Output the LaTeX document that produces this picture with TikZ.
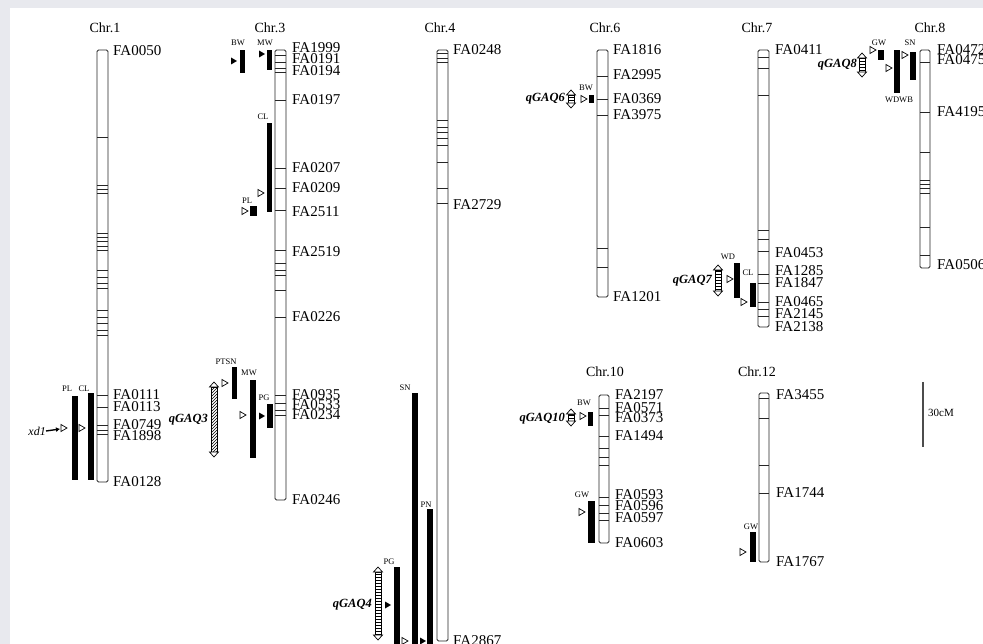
\documentclass[tikz,border=0pt]{standalone}
\usepackage{fontspec}
\setmainfont{Liberation Serif}
\usetikzlibrary{patterns,arrows.meta}
\definecolor{bggray}{RGB}{232,233,238}

\newcommand{\otri}[2]{\draw[tri, fill=white] (#1,#2) ++(-3,-3.5) -- ++(6,3.5) -- ++(-6,3.5) -- cycle;}
\newcommand{\ftri}[2]{\fill (#1,#2) ++(-3,-3.5) -- ++(6,3.5) -- ++(-6,3.5) -- cycle;}
% ladder style double arrow for a QTL interval
\newcommand{\qarrow}[4]{%
  \draw[tri, fill=white, #4] (#1-3,#2+5) rectangle (#1+3,#3-5);
  \draw[tri, fill=white] (#1-4.5,#2+5) -- (#1,#2) -- (#1+4.5,#2+5) -- cycle;
  \draw[tri, fill=white] (#1-4.5,#3-5) -- (#1,#3) -- (#1+4.5,#3-5) -- cycle;
}

\begin{document}
\begin{tikzpicture}[x=1pt, y=-1pt,
  chrbar/.style={draw=black!85, line width=0.9pt, fill=white, rounded corners=1.5pt},
  band/.style={draw=black!85, line width=0.8pt},
  qtlbar/.style={fill=black},
  tri/.style={draw=black, line width=0.7pt},
  mk/.style={font=\fontsize{15}{15}\selectfont, anchor=west, inner sep=0pt},
  chrtitle/.style={font=\fontsize{14}{14}\selectfont, inner sep=0pt},
  trait/.style={font=\fontsize{8.5}{8.5}\selectfont, inner sep=0pt},
  qname/.style={font=\fontsize{12.5}{12.5}\selectfont\bfseries\itshape, inner sep=0pt, anchor=east},
  rungs/.style={pattern=horizontal lines},
  hatch/.style={pattern=north east lines}
]
\useasboundingbox (0,0) rectangle (983,644);
\fill[bggray] (0,0) rectangle (983,644);
\fill[white] (10,8) rectangle (983,644);

% Chr.1
\node[chrtitle] (c1) at (105,28) {Chr.1};
\draw[chrbar] (97,50) rectangle (108,482);
\foreach \b in {137,185,189,193,233,237,241,246,250,270,277,283,288,310,317,323,330,335,395,407,425,430,434}
  \draw[band] (97,\b) -- (108,\b);
\foreach \y/\t in {51/FA0050,395/FA0111,407/FA0113,425/FA0749,436/FA1898,482/FA0128}
  \node[mk] (m\t) at (113,\y) {\t};
\fill[qtlbar] (72,396) rectangle (77.5,480);
\fill[qtlbar] (88,393) rectangle (94,480);
\node[trait] (pl1) at (67,389) {PL};
\node[trait] (cl1) at (84,389) {CL};
\otri{64}{428}
\otri{82}{428}
\node[font=\fontsize{12}{12}\selectfont\itshape, inner sep=0pt, anchor=east] (xd1) at (46,431) {xd1};
\coordinate (t1) at (60,429);
\draw[-{Latex[length=4pt,width=5pt]}, line width=1.4pt] (xd1.east) -- (t1);

% Chr.3
\node[chrtitle] (c3) at (270,28) {Chr.3};
\draw[chrbar] (275,50) rectangle (286,500);
\foreach \b in {55,62,68,72,100,168,188,210,250,263,270,275,290,317,395,403,410,415}
  \draw[band] (275,\b) -- (286,\b);
\foreach \y/\t in {48/FA1999,59/FA0191,71/FA0194,100/FA0197,168/FA0207,188/FA0209,212/FA2511,252/FA2519,317/FA0226,395/FA0935,405/FA0533,415/FA0234,500/FA0246}
  \node[mk] (m\t) at (292,\y) {\t};
\node[trait] (bw3) at (238,43) {BW};
\fill[qtlbar] (240,50) rectangle (245,73);
\ftri{234}{61}
\node[trait] (mw3a) at (265,43) {MW};
\fill[qtlbar] (267,50) rectangle (271.5,70);
\ftri{262}{54}
\node[trait] (cl3) at (263,117) {CL};
\fill[qtlbar] (267,123) rectangle (272,212);
\otri{261}{193}
\node[trait] (pl3) at (247,201) {PL};
\otri{245}{211}
\fill[qtlbar] (250,206) rectangle (257,216);
\node[trait] (ptsn) at (226,362) {PTSN};
\fill[qtlbar] (232,367) rectangle (237,399);
\otri{225}{383}
\node[trait] (mw3b) at (249,373) {MW};
\fill[qtlbar] (250,380) rectangle (256,458);
\otri{243}{415}
\node[trait] (pg3) at (264,398) {PG};
\fill[qtlbar] (267,404) rectangle (272.5,428);
\ftri{262}{416}
\qarrow{214}{382}{457}{hatch}
\node[qname] (q3) at (208,420) {qGAQ3};

% Chr.4
\node[chrtitle] (c4) at (440,28) {Chr.4};
\draw[chrbar] (437,50) rectangle (448,641);
\foreach \b in {53,58,62,120,127,132,138,145,162,188,203}
  \draw[band] (437,\b) -- (448,\b);
\foreach \y/\t in {50/FA0248,205/FA2729,641/FA2867}
  \node[mk] (m\t) at (453,\y) {\t};
\node[trait] (sn4) at (405,388) {SN};
\fill[qtlbar] (412,393) rectangle (417.5,644);
\node[trait] (pn4) at (426,505) {PN};
\fill[qtlbar] (427,509) rectangle (433,644);
\node[trait] (pg4) at (389,562) {PG};
\fill[qtlbar] (394,567) rectangle (400,644);
\ftri{388}{605}
\otri{405}{641}
\ftri{423}{641}
\qarrow{378}{567}{640}{rungs}
\node[qname] (q4) at (372,605) {qGAQ4};

% Chr.6
\node[chrtitle] (c6) at (605,28) {Chr.6};
\draw[chrbar] (597,50) rectangle (608,297);
\foreach \b in {76,99,115,248,267}
  \draw[band] (597,\b) -- (608,\b);
\foreach \y/\t in {50/FA1816,75/FA2995,99/FA0369,115/FA3975,297/FA1201}
  \node[mk] (m\t) at (613,\y) {\t};
\node[trait] (bw6) at (586,88) {BW};
\fill[qtlbar] (589,95.5) rectangle (594,103);
\otri{584}{99}
\qarrow{571}{90}{108}{rungs}
\node[qname] (q6) at (565,99) {qGAQ6};

% Chr.10
\node[chrtitle] (c10) at (605,372) {Chr.10};
\draw[chrbar] (599,395) rectangle (609,543);
\foreach \b in {408,415,436,448,457,465,497,505,513,520}
  \draw[band] (599,\b) -- (609,\b);
\foreach \y/\t in {395/FA2197,408/FA0571,418/FA0373,436/FA1494,495/FA0593,506/FA0596,518/FA0597,543/FA0603}
  \node[mk] (m\t) at (615,\y) {\t};
\node[trait] (bw10) at (584,403) {BW};
\fill[qtlbar] (588,412) rectangle (593,426);
\otri{583}{416}
\qarrow{571}{409}{426}{rungs}
\node[qname] (q10) at (565,419) {qGAQ10};
\node[trait] (gw10) at (582,495) {GW};
\fill[qtlbar] (588,501) rectangle (595,543);
\otri{582}{512}

% Chr.7
\node[chrtitle] (c7) at (757,28) {Chr.7};
\draw[chrbar] (758,50) rectangle (769,327);
\foreach \b in {57,68,95,230,239,251,274,283,302,309,316}
  \draw[band] (758,\b) -- (769,\b);
\foreach \y/\t in {50/FA0411,253/FA0453,271/FA1285,283/FA1847,302/FA0465,314/FA2145,327/FA2138}
  \node[mk] (m\t) at (775,\y) {\t};
\node[trait] (wd7) at (728,257) {WD};
\fill[qtlbar] (734,263) rectangle (739.5,298);
\node[trait] (cl7) at (748,273) {CL};
\fill[qtlbar] (750,283) rectangle (755.5,307);
\otri{730}{279}
\otri{744}{302}
\qarrow{718}{265}{296}{rungs}
\node[qname] (q7) at (712,281) {qGAQ7};

% Chr.12
\node[chrtitle] (c12) at (757,372) {Chr.12};
\draw[chrbar] (759,393) rectangle (769,562);
\foreach \b in {398,418,465,493}
  \draw[band] (759,\b) -- (769,\b);
\foreach \y/\t in {395/FA3455,493/FA1744,562/FA1767}
  \node[mk] (m\t) at (776,\y) {\t};
\node[trait] (gw12) at (751,527) {GW};
\fill[qtlbar] (750,532) rectangle (756,562);
\otri{743}{552}

% Chr.8
\node[chrtitle] (c8) at (930,28) {Chr.8};
\draw[chrbar] (920,50) rectangle (930,268);
\foreach \b in {62,112,152,180,184,188,193,227,255}
  \draw[band] (920,\b) -- (930,\b);
\foreach \y/\t in {50/FA0472,60/FA0475,112/FA4195,265/FA0506}
  \node[mk] (m\t) at (937,\y) {\t};
\node[trait] (gw8) at (879,43) {GW};
\fill[qtlbar] (878,50) rectangle (884,60);
\otri{873}{50}
\node[trait] (sn8) at (910,43) {SN};
\fill[qtlbar] (910,52) rectangle (916,80);
\otri{905}{55}
\fill[qtlbar] (894,50) rectangle (900,93);
\otri{889}{68}
\node[trait] (wdwb) at (899,100) {WDWB};
\qarrow{862}{53}{77}{rungs}
\node[qname] (q8) at (857,65) {qGAQ8};

% scale bar
\draw[line width=1.2pt, black!70] (923,382) coordinate (s1) -- (923,447) coordinate (s2);
\node[font=\fontsize{11}{11}\selectfont, inner sep=0pt, anchor=west] (scale) at (928,413) {30cM};
\end{tikzpicture}
\end{document}
